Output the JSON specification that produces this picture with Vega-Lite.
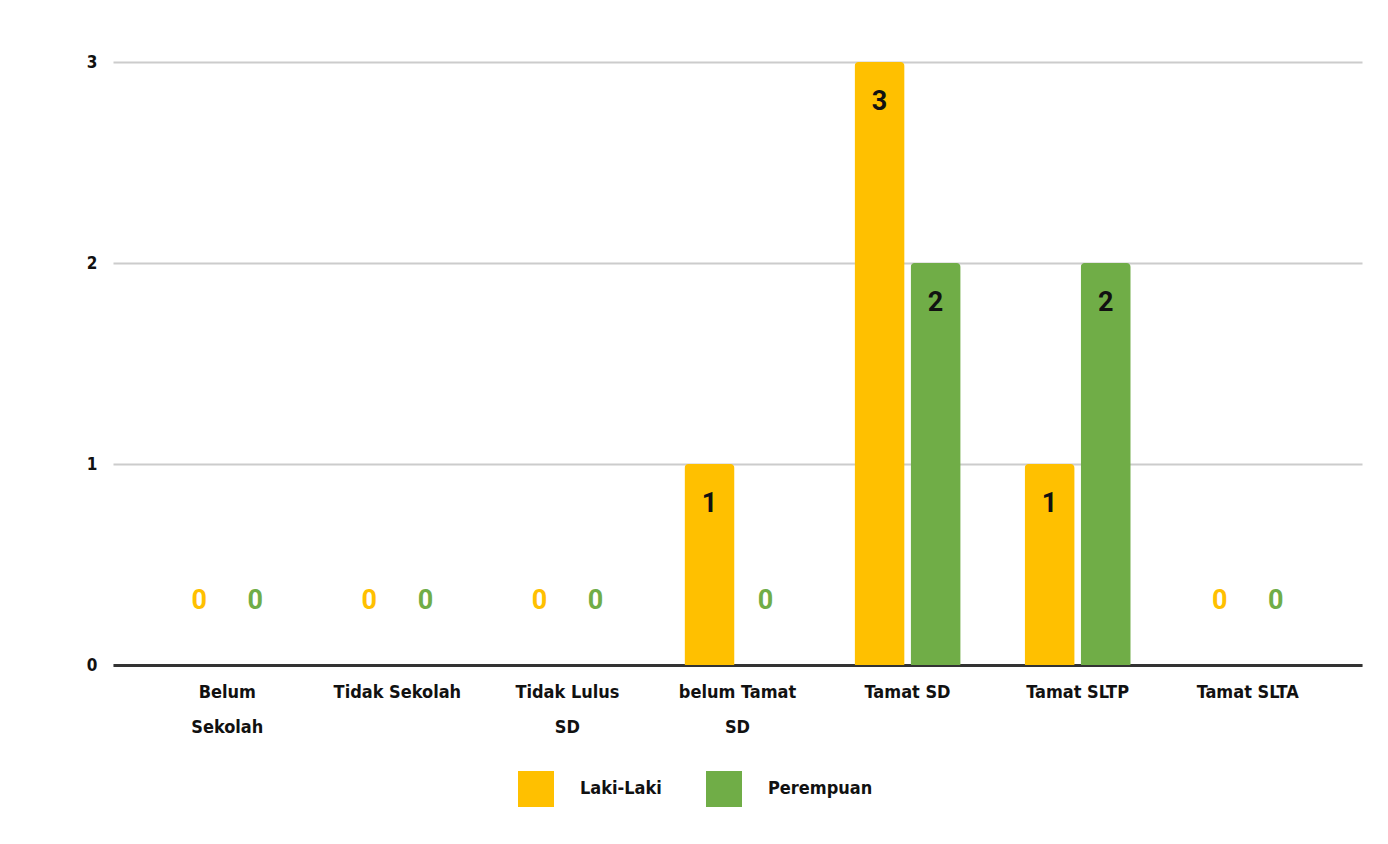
{
  "$schema": "https://vega.github.io/schema/vega-lite/v6.json",
  "width": 1249,
  "height": 603,
  "padding": {"left": 86, "top": 53, "right": 26, "bottom": 10},
  "background": "white",
  "data": {
    "values": [
      {"kategori": "Belum Sekolah", "jenis": "Laki-Laki", "jumlah": 0},
      {"kategori": "Belum Sekolah", "jenis": "Perempuan", "jumlah": 0},
      {"kategori": "Tidak Sekolah", "jenis": "Laki-Laki", "jumlah": 0},
      {"kategori": "Tidak Sekolah", "jenis": "Perempuan", "jumlah": 0},
      {"kategori": "Tidak Lulus SD", "jenis": "Laki-Laki", "jumlah": 0},
      {"kategori": "Tidak Lulus SD", "jenis": "Perempuan", "jumlah": 0},
      {"kategori": "belum Tamat SD", "jenis": "Laki-Laki", "jumlah": 1},
      {"kategori": "belum Tamat SD", "jenis": "Perempuan", "jumlah": 0},
      {"kategori": "Tamat SD", "jenis": "Laki-Laki", "jumlah": 3},
      {"kategori": "Tamat SD", "jenis": "Perempuan", "jumlah": 2},
      {"kategori": "Tamat SLTP", "jenis": "Laki-Laki", "jumlah": 1},
      {"kategori": "Tamat SLTP", "jenis": "Perempuan", "jumlah": 2},
      {"kategori": "Tamat SLTA", "jenis": "Laki-Laki", "jumlah": 0},
      {"kategori": "Tamat SLTA", "jenis": "Perempuan", "jumlah": 0}
    ]
  },
  "encoding": {
    "x": {
      "field": "kategori",
      "type": "nominal",
      "sort": ["Belum Sekolah", "Tidak Sekolah", "Tidak Lulus SD", "belum Tamat SD", "Tamat SD", "Tamat SLTP", "Tamat SLTA"],
      "scale": {"paddingInner": 0.376, "paddingOuter": 0.36},
      "axis": {
        "title": null,
        "labelAngle": 0,
        "labelFont": "DejaVu Sans Condensed, DejaVu Sans",
        "labelFontSize": 18,
        "labelFontWeight": "bold",
        "labelColor": "#111",
        "labelPadding": 27,
        "labelLineHeight": 35,
        "labelBaseline": "middle",
        "ticks": false,
        "domainColor": "#333",
        "domainWidth": 3,
        "grid": false,
        "labelExpr": "datum.value == 'Belum Sekolah' ? ['Belum', 'Sekolah'] : datum.value == 'Tidak Lulus SD' ? ['Tidak Lulus', 'SD'] : datum.value == 'belum Tamat SD' ? ['belum Tamat', 'SD'] : datum.label"
      }
    },
    "xOffset": {
      "field": "jenis",
      "type": "nominal",
      "sort": ["Laki-Laki", "Perempuan"],
      "scale": {"paddingInner": 0.107, "paddingOuter": 0}
    },
    "y": {
      "field": "jumlah",
      "type": "quantitative",
      "scale": {"domain": [0, 3], "nice": false},
      "axis": {
        "title": null,
        "values": [0, 1, 2, 3],
        "format": "d",
        "labelFont": "DejaVu Sans Condensed, DejaVu Sans",
        "labelFontSize": 17,
        "labelFontWeight": "bold",
        "labelColor": "#111",
        "labelPadding": 16,
        "ticks": false,
        "domain": false,
        "gridColor": "#cccccc",
        "gridWidth": 2
      }
    },
    "color": {
      "field": "jenis",
      "type": "nominal",
      "scale": {"domain": ["Laki-Laki", "Perempuan"], "range": ["#FFC000", "#70AD47"]},
      "legend": {
        "title": null,
        "orient": "none",
        "legendX": 405,
        "legendY": 709,
        "direction": "horizontal",
        "symbolType": "square",
        "symbolSize": 1296,
        "symbolStrokeWidth": 0,
        "symbolOpacity": 1,
        "labelFont": "DejaVu Sans Condensed, DejaVu Sans",
        "labelFontSize": 18,
        "labelFontWeight": "bold",
        "labelColor": "#111",
        "labelOffset": 26,
        "columnPadding": 44
      }
    }
  },
  "layer": [
    {
      "mark": {"type": "bar", "cornerRadiusTopLeft": 4, "cornerRadiusTopRight": 4}
    },
    {
      "transform": [{"filter": "datum.jumlah > 0"}],
      "mark": {"type": "text", "font": "Roboto", "fontSize": 27, "fontWeight": "bold", "baseline": "middle", "dy": 40, "color": "#111"},
      "encoding": {
        "text": {"field": "jumlah", "type": "quantitative"},
        "color": {"value": "#111"}
      }
    },
    {
      "transform": [{"filter": "datum.jumlah == 0"}],
      "mark": {"type": "text", "font": "Roboto", "fontSize": 27, "fontWeight": "bold", "baseline": "middle", "dy": -64},
      "encoding": {
        "text": {"field": "jumlah", "type": "quantitative"}
      }
    }
  ],
  "config": {
    "view": {"stroke": null}
  }
}
